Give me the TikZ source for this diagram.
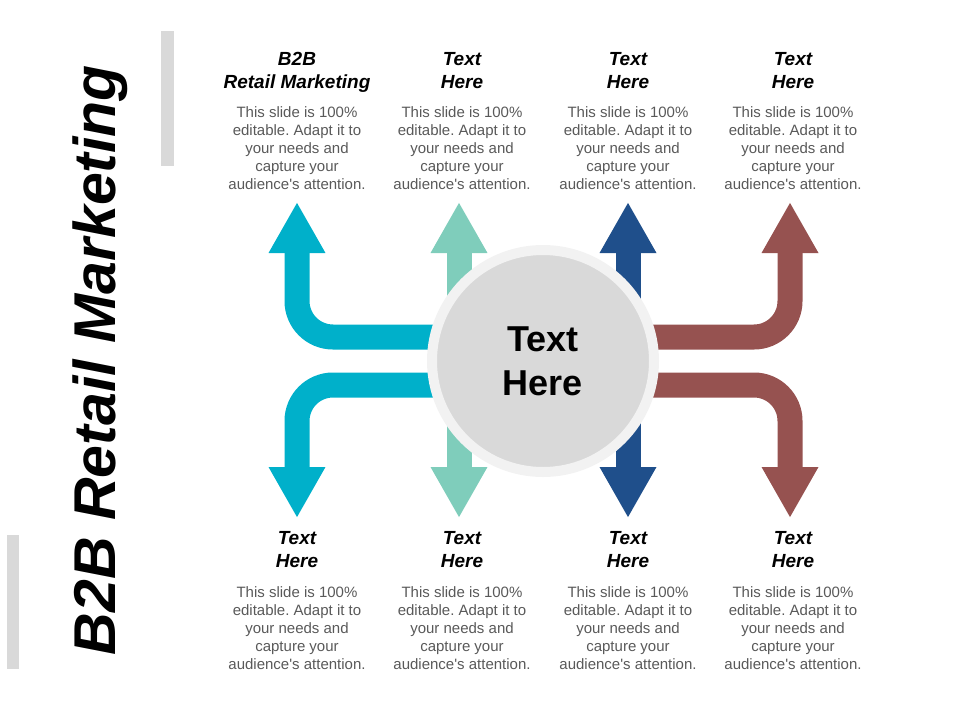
\documentclass[tikz,border=0pt]{standalone}
\usepackage{fontspec}
\setmainfont{Liberation Sans}
\usepackage{tikz}
\usetikzlibrary{arrows.meta}
\usetikzlibrary{backgrounds}
\definecolor{ColCyan}{RGB}{0,176,202}
\definecolor{ColMint}{RGB}{127,205,187}
\definecolor{ColBlue}{RGB}{31,79,139}
\definecolor{ColBrown}{RGB}{150,82,80}
\definecolor{ColRing}{RGB}{242,242,242}
\definecolor{ColHub}{RGB}{217,217,217}
\definecolor{ColBody}{RGB}{89,89,89}
\tikzstyle{ArrowBand}=[line width=25pt,rounded corners=36pt,->]
\tikzstyle{HubNode}=[circle,draw=ColRing,line width=10pt,fill=ColHub,minimum size=222pt,
align=center,font=\fontsize{36}{44}\selectfont\bfseries]
\tikzstyle{TitleText}=[anchor=north,inner sep=0pt,align=center,font=\fontsize{19}{23}\selectfont\bfseries\itshape]
\tikzstyle{BodyText}=[anchor=north,inner sep=0pt,align=center,text=ColBody,font=\fontsize{15}{18}\selectfont]
\tikzstyle{SideBar}=[fill=ColHub]
\newcommand{\BodyCopy}{This slide is 100\%\\editable. Adapt it to\\your needs and\\capture your\\audience\textquotesingle s attention.}
\frenchspacing

\begin{document}
\begin{tikzpicture}[x=1pt,y=-1pt,>={Triangle[width=53pt,length=51pt]}]
        \useasboundingbox(0,0)rectangle(960,720);
        \fill[SideBar](161,31)rectangle(174,166);
        \fill[SideBar](7,535)rectangle(19,669);
        \node[rotate=90,font=\fontsize{59}{59}\selectfont\bfseries\itshape](title)at(100,360){B2B Retail Marketing};
        \node[HubNode](hub)at(543,361){Text\\Here};
        \coordinate(hubUp)at(543,337);
        \coordinate(hubDown)at(543,385);
        \coordinate(cyanUp)at(297,202);
        \coordinate(cyanDown)at(297,518);
        \coordinate(mintUp)at(459,202);
        \coordinate(mintDown)at(459,518);
        \coordinate(blueUp)at(628,202);
        \coordinate(blueDown)at(628,518);
        \coordinate(brownUp)at(790,202);
        \coordinate(brownDown)at(790,518);
        \begin{scope}[on background layer]
        \draw[ArrowBand,ColCyan](hubUp)-|(cyanUp);
        \draw[ArrowBand,ColCyan](hubDown)-|(cyanDown);
        \draw[ArrowBand,ColBrown](hubUp)-|(brownUp);
        \draw[ArrowBand,ColBrown](hubDown)-|(brownDown);
        \draw[ArrowBand,ColMint,<->](mintUp)--(mintDown);
        \draw[ArrowBand,ColBlue,<->](blueUp)--(blueDown);
        \end{scope}
        \foreach \i/\x/\t in {1/297/{B2B\\Retail Marketing},2/462/{Text\\Here},3/628/{Text\\Here},4/793/{Text\\Here}}{
        \node[TitleText](top\i)at(\x,52){\t};
        \node[BodyText](topbody\i)at(\x,106){\BodyCopy};
        }
        \foreach \i/\x in {1/297,2/462,3/628,4/793}{
        \node[TitleText](bot\i)at(\x,531){Text\\Here};
        \node[BodyText](botbody\i)at(\x,586){\BodyCopy};
        }
    \end{tikzpicture}
\end{document}
